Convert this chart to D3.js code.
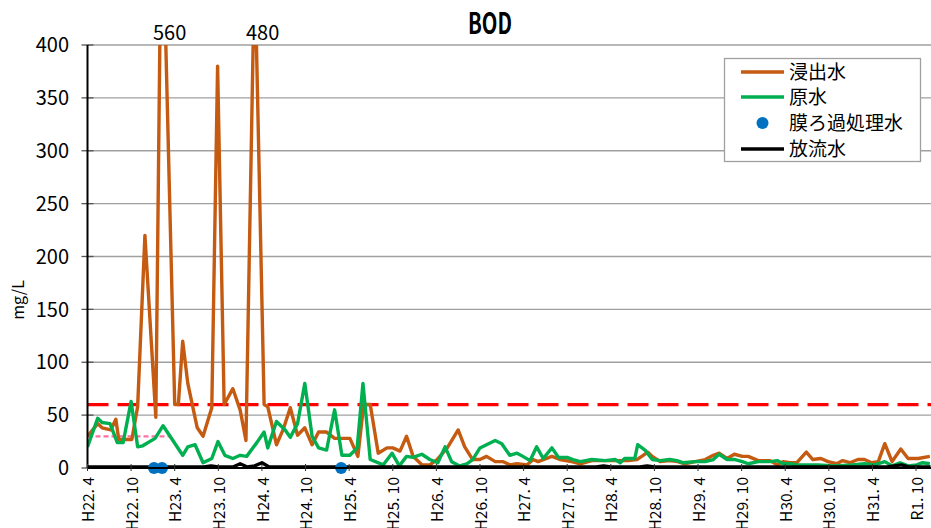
<!DOCTYPE html>
<html><head><meta charset="utf-8">
<script src="https://cdn.jsdelivr.net/npm/d3@7"></script>
<style>body{margin:0;background:#fff}svg{display:block}</style>
</head><body><svg id="c" width="931" height="528"></svg>
<script>
// ---- data (months counted from H22.4 = April 2010) ----
const title = "BOD";
const yLabel = "mg/L";
const seriesNames = ["浸出水", "原水", "膜ろ過処理水", "放流水"];
const tickMonths = [0,6,12,18,24,30,36,42,48,54,60,66,72,78,84,90,96,102,108,114];
const tickLabels = ["H22. 4","H22. 10","H23. 4","H23. 10","H24. 4","H24. 10","H25. 4","H25. 10","H26. 4","H26. 10","H27. 4","H27. 10","H28. 4","H28. 10","H29. 4","H29. 10","H30. 4","H30. 10","H31. 4","R1. 10"];
const yTicks = [0,50,100,150,200,250,300,350,400];

const leachateMonth = [0,1.4,2,3.2,3.9,4.3,6.1,6.9,7.9,9.4,10.2,12,12.5,13.1,13.8,15.1,15.9,17.1,17.9,18.8,20,21,21.8,23,24.3,24.8,26,26.9,27.9,28.9,29.9,30.9,31.8,32.9,34,36.1,37.2,38,38.9,40,41.2,42,43,43.9,44.8,46,47.1,48.1,49.5,51,51.9,53,54,54.9,56.1,57.2,58.1,59.1,60.5,61.3,62,63.9,65,66.6,67.8,69.4,71.2,73,74.4,75.6,77.1,77.7,78.8,80.1,81.2,82.2,83.6,85,86.1,86.9,88,89,90.1,90.9,92.3,93.9,94.9,95.7,96.7,97.6,98.9,99.8,100.9,101.9,103.1,103.9,104.9,106,106.9,107.9,108.8,109.7,110.7,111.9,112.9,114.3,115.9];
const leachateValue = [30,42,38,36,46,27,27,58,220,48,560,60,60,120,80,38,30,57,380,60,75,55,26,480,60,58,22,36,57,31,38,22,34,34,28,28,11,60,60,14,19,19,16,30,11,3,3,8,19,36,20,8,8,11,6,6,3,4,3,8,6,11,8,6,4,7,7,7,7,8,15,11,6,7,6,4,6,8,12,14,9,13,11,11,7,7,3,6,5,5,15,8,9,6,4,7,5,8,8,5,6,23,6,18,9,9,11];

const rawMonth = [0,1.4,2,3.1,4.1,4.9,6,6.9,7.6,9.3,10.4,13.1,13.8,14.8,15.9,17.1,17.95,18.9,20,21,21.9,23.3,24.3,24.8,26,27.2,27.9,28.9,29.9,30.9,31.8,32.9,34,35,36.1,37.1,37.9,38.9,40.7,41.9,42.9,43.9,44.8,46,47.1,48.2,49.2,50.1,51.2,52.2,53,54,54.9,56.1,57,58.1,59.1,59.9,60.9,61.8,62.7,63.9,64.8,66,66.8,67.8,69.4,71.2,72.6,73.3,73.9,75.3,75.7,76.7,77.7,78.8,80.1,81.1,81.9,83.6,85,86.1,86.9,88,89.1,90.1,90.9,92.3,93.9,94.9,95.7,96.7,97.6,98.9,100.5,102.8,105.2,106.9,108.3,109.7,110.7,111.8,112.9,114.1,114.9,115.9];
const rawValue = [20,47,43,42,24,24,63,20,21,28,40,12,20,22,5,9,25,12,9,12,11,24,34,19,44,36,29,42,80,30,19,17,55,12,12,19,80,8,3,14,2,11,10,13,8,5,20,6,2,4,8,19,22,26,23,12,14,11,7,20,9,19,10,10,8,6,8,7,8,5,9,9,22,17,8,7,8,7,5,6,6,8,13,8,8,6,4,6,6,7,4,4,3,3,3,2,3,4,3,6,2,5,2,3,5,4];

const membraneMonth = [9.15,10.25,34.9];
const membraneValue = [0,0,0];

const dischargeValue = [1,1,1,1,1,1,1,1,1,1, 1,1,1,1,1,1,1,2,1,1, 1,4,1,2,5,1,1,1,1,1, 1,1,1,1,1,1,1,1,1,1, 1,1,1,1,1,1,1,1,1,1, 1,1,1,1,1,1,1,1,1,1, 1,1,1,1,1,1,1,1,1,1, 1,2,1,1,1,1,1,2,1,1, 1,1,1,1,1,1,1,1,1,1, 1,1,1,1,1,1,1,1,1,1, 1,1,1,1,1,1,1,1,1,1, 1,2,3,1,1,1,1];
const dischargeMonth = dischargeValue.map((d,i)=>i);

const limitValue = 60;          // red dashed reference
const pinkValue = 30;           // pink dotted reference
const pinkEndMonth = 11.3;
const peakLabels = [{m:10.2, v:560, t:"560"}, {m:23, v:480, t:"480"}];

// ---- layout ----
const F = "'Noto Sans CJK JP','Noto Sans',sans-serif";
const L = 87.5, T = 45, B = 468, R = 87.5 + 117*7.268;
const svg = d3.select("#c");
const x = d3.scaleLinear().domain([0,117]).range([L,R]);
const y = d3.scaleLinear().domain([0,400]).range([B,T]);

svg.append("defs").append("clipPath").attr("id","clip")
  .append("rect").attr("x",L).attr("y",T).attr("width",R-L).attr("height",B-T+10);

// gridlines
svg.append("g").selectAll("line").data(yTicks.filter(d=>d>0)).join("line")
  .attr("x1",L).attr("x2",R).attr("y1",d=>y(d)).attr("y2",d=>y(d))
  .attr("stroke","#a0a0a0").attr("stroke-width",1.3);

// y ticks
svg.append("g").selectAll("line").data(yTicks).join("line")
  .attr("x1",L-6).attr("x2",L+6).attr("y1",d=>y(d)).attr("y2",d=>y(d))
  .attr("stroke","#555").attr("stroke-width",1.3);
svg.append("g").selectAll("text").data(yTicks).join("text")
  .attr("x",69).attr("y",d=>y(d)).attr("dy","0.36em").attr("text-anchor","end")
  .attr("font-family",F).attr("font-size",20).attr("fill","#000").text(d=>d);

// y label
svg.append("text").attr("transform","translate(24,300) rotate(-90)")
  .attr("text-anchor","middle").attr("font-family",F).attr("font-size",16).text(yLabel);

// title
svg.append("text").attr("x",490).attr("y",34).attr("text-anchor","middle")
  .attr("font-family",F).attr("font-weight","bold").attr("font-size",29)
  .attr("textLength",44).attr("lengthAdjust","spacingAndGlyphs").text(title);

// reference lines
const plot = svg.append("g").attr("clip-path","url(#clip)");
plot.append("line").attr("x1",x(0)).attr("x2",R).attr("y1",y(limitValue)).attr("y2",y(limitValue))
  .attr("stroke","#ff0000").attr("stroke-width",3.3).attr("stroke-dasharray","21,9");
plot.append("line").attr("x1",x(0)).attr("x2",x(pinkEndMonth)).attr("y1",y(pinkValue)).attr("y2",y(pinkValue))
  .attr("stroke","#ff6f9f").attr("stroke-width",2.2).attr("stroke-dasharray","5,3");

const line = d3.line().x(d=>x(d[0])).y(d=>y(d[1]));
plot.append("path").datum(d3.zip(leachateMonth, leachateValue))
  .attr("d",line).attr("fill","none").attr("stroke","#c55a11").attr("stroke-width",3.4).attr("stroke-linejoin","round");
plot.append("path").datum(d3.zip(rawMonth, rawValue))
  .attr("d",line).attr("fill","none").attr("stroke","#00b050").attr("stroke-width",3.4).attr("stroke-linejoin","round");

// axes
svg.append("line").attr("x1",L).attr("x2",L).attr("y1",T).attr("y2",B).attr("stroke","#000").attr("stroke-width",2);
svg.append("line").attr("x1",L).attr("x2",R).attr("y1",B).attr("y2",B).attr("stroke","#000").attr("stroke-width",2);
svg.append("g").selectAll("line").data(tickMonths).join("line")
  .attr("x1",d=>x(d)).attr("x2",d=>x(d)).attr("y1",B-4).attr("y2",B+3).attr("stroke","#333").attr("stroke-width",1);

plot.append("path").datum(d3.zip(dischargeMonth, dischargeValue))
  .attr("d",line).attr("fill","none").attr("stroke","#000").attr("stroke-width",3.4).attr("stroke-linejoin","round");
plot.append("g").selectAll("circle").data(d3.zip(membraneMonth, membraneValue)).join("circle")
  .attr("cx",d=>x(d[0])).attr("cy",d=>y(d[1])).attr("r",6).attr("fill","#0070c0");

// x tick labels
svg.append("g").selectAll("text").data(tickMonths).join("text")
  .attr("transform",(d)=>`translate(${x(d)+1},477) rotate(-90)`)
  .attr("dy","0.36em").attr("text-anchor","end")
  .attr("font-family",F).attr("font-size",15.5).text((d,i)=>tickLabels[i]);

// peak labels
svg.append("g").selectAll("text").data(peakLabels).join("text")
  .attr("x",d=>x(d.m)+8).attr("y",40).attr("text-anchor","middle")
  .attr("font-family",F).attr("font-size",20).text(d=>d.t);

// legend
const lg = svg.append("g");
lg.append("rect").attr("x",724.5).attr("y",58.5).attr("width",196).attr("height",103)
  .attr("fill","#fff").attr("stroke","#a0a0a0").attr("stroke-width",1.3);
const colors = ["#c55a11","#00b050","#0070c0","#000"];
const rowsY = [72,97,123,149];
seriesNames.forEach((n,i)=>{
  if(i===2){
    lg.append("circle").attr("cx",762.5).attr("cy",rowsY[i]).attr("r",6).attr("fill",colors[i]);
  } else {
    lg.append("line").attr("x1",741).attr("x2",784).attr("y1",rowsY[i]).attr("y2",rowsY[i])
      .attr("stroke",colors[i]).attr("stroke-width",3.4);
  }
  lg.append("text").attr("x",789).attr("y",rowsY[i]).attr("dy","0.36em")
    .attr("font-family",F).attr("font-size",19).text(n);
});
</script></body></html>
